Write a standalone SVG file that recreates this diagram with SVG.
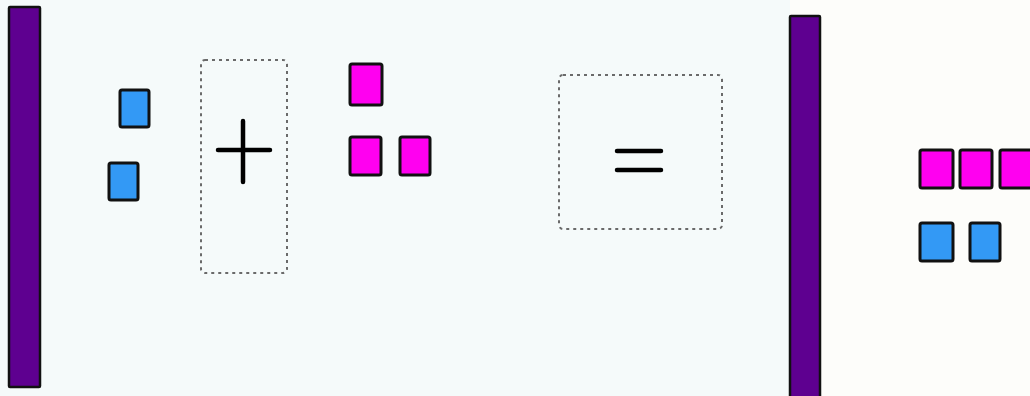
<svg xmlns="http://www.w3.org/2000/svg" width="1030" height="396" viewBox="0 0 1030 396">
<style>
.bar{fill:#5e0090;stroke:#111;stroke-width:2.5}
.blue{fill:#3399f5;stroke:#111;stroke-width:3}
.mag{fill:#ff00f0;stroke:#111;stroke-width:3}
.box{fill:none;stroke:#6a6a6a;stroke-width:2;stroke-dasharray:3 4}
.op{stroke:#000;stroke-width:4.5;stroke-linecap:round;fill:none}
</style>
<rect x="0" y="0" width="1030" height="396" fill="#fdfdfa"/>
<rect x="0" y="0" width="790" height="396" fill="#f5fafa"/>
<g id="bar-left"><rect class="bar" x="9" y="7" width="31" height="380" rx="1"/></g>
<g id="blue-1"><rect class="blue" x="120" y="90" width="29" height="37" rx="2"/></g>
<g id="blue-2"><rect class="blue" x="109" y="163" width="29" height="37" rx="2"/></g>
<g id="plus-box">
<rect class="box" x="201" y="60" width="86" height="213" rx="4"/>
<path class="op" d="M218 150H270M243 121V182"/>
</g>
<g id="mag-1"><rect class="mag" x="350" y="64" width="32" height="41" rx="2"/></g>
<g id="mag-2"><rect class="mag" x="350" y="137" width="31" height="38" rx="2"/></g>
<g id="mag-3"><rect class="mag" x="400" y="137" width="30" height="38" rx="2"/></g>
<g id="equals-box">
<rect class="box" x="559" y="75" width="163" height="154" rx="4"/>
<path class="op" d="M617 151H661M617 170H661"/>
</g>
<g id="bar-right"><rect class="bar" x="790" y="16" width="30" height="390" rx="1"/></g>
<g id="mag-r1"><rect class="mag" x="920" y="150" width="33" height="38" rx="2"/></g>
<g id="mag-r2"><rect class="mag" x="960" y="150" width="32" height="38" rx="2"/></g>
<g id="mag-r3"><rect class="mag" x="1000" y="150" width="40" height="38" rx="2"/></g>
<g id="blue-r1"><rect class="blue" x="920" y="223" width="33" height="38" rx="2"/></g>
<g id="blue-r2"><rect class="blue" x="970" y="223" width="30" height="38" rx="2"/></g>
<g id="connectors"></g>
</svg>
